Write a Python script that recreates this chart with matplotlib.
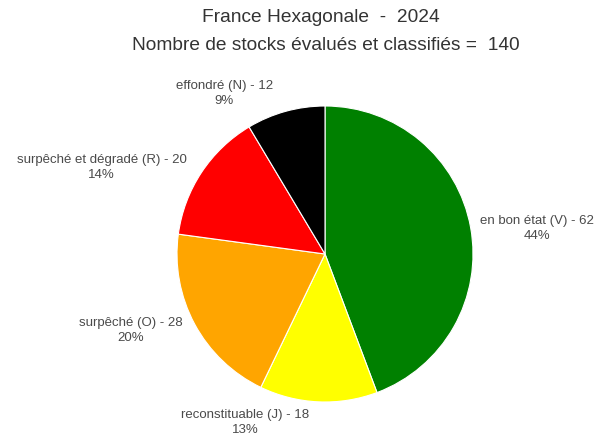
import numpy as np
import matplotlib.pyplot as plt

plt.rcParams['font.family'] = ['Liberation Sans', 'DejaVu Sans']

# data
categories = ['en bon état (V)', 'reconstituable (J)', 'surpêché (O)',
              'surpêché et dégradé (R)', 'effondré (N)']
counts = [62, 18, 28, 20, 12]
colors = ['#008000', '#ffff00', '#ffa500', '#ff0000', '#000000']
region = 'France Hexagonale'
year = 2024

# label placement (pie radius = 1)
label_pos = [(1.43, 0.18), (-0.54, -1.13), (-1.31, -0.51),
             (-1.51, 0.59), (-0.68, 1.09)]

total = sum(counts)

fig = plt.figure(figsize=(6.1, 4.35), dpi=100)
ax = fig.add_axes([0, 0, 1, 1])

ax.pie(counts, colors=colors, startangle=90, counterclock=False,
       radius=1.0, center=(0, 0),
       wedgeprops=dict(edgecolor='white', linewidth=0.8))

for cat, n, (x, y) in zip(categories, counts, label_pos):
    pct = 100.0 * n / total
    ax.text(x, y, "%s - %d\n%d%%" % (cat, n, int(round(pct))),
            ha='center', va='center', fontsize=9.5, color='#4a4a4a',
            linespacing=1.3)

scale = 148.0
cx, cy = 325.0, 255.0
ax.set_xlim(-cx / scale, (610 - cx) / scale)
ax.set_ylim((cy - 435) / scale, cy / scale)
ax.set_aspect('auto')
ax.axis('off')

fig.text(0.526, 1 - 18 / 435., "%s  -  %d" % (region, year),
         ha='center', va='center', fontsize=13.8, color='#333333')
fig.text(0.534, 1 - 45 / 435., "Nombre de stocks évalués et classifiés =  %d" % total,
         ha='center', va='center', fontsize=13.8, color='#333333')

plt.savefig('out.png', dpi=100)
plt.close()
